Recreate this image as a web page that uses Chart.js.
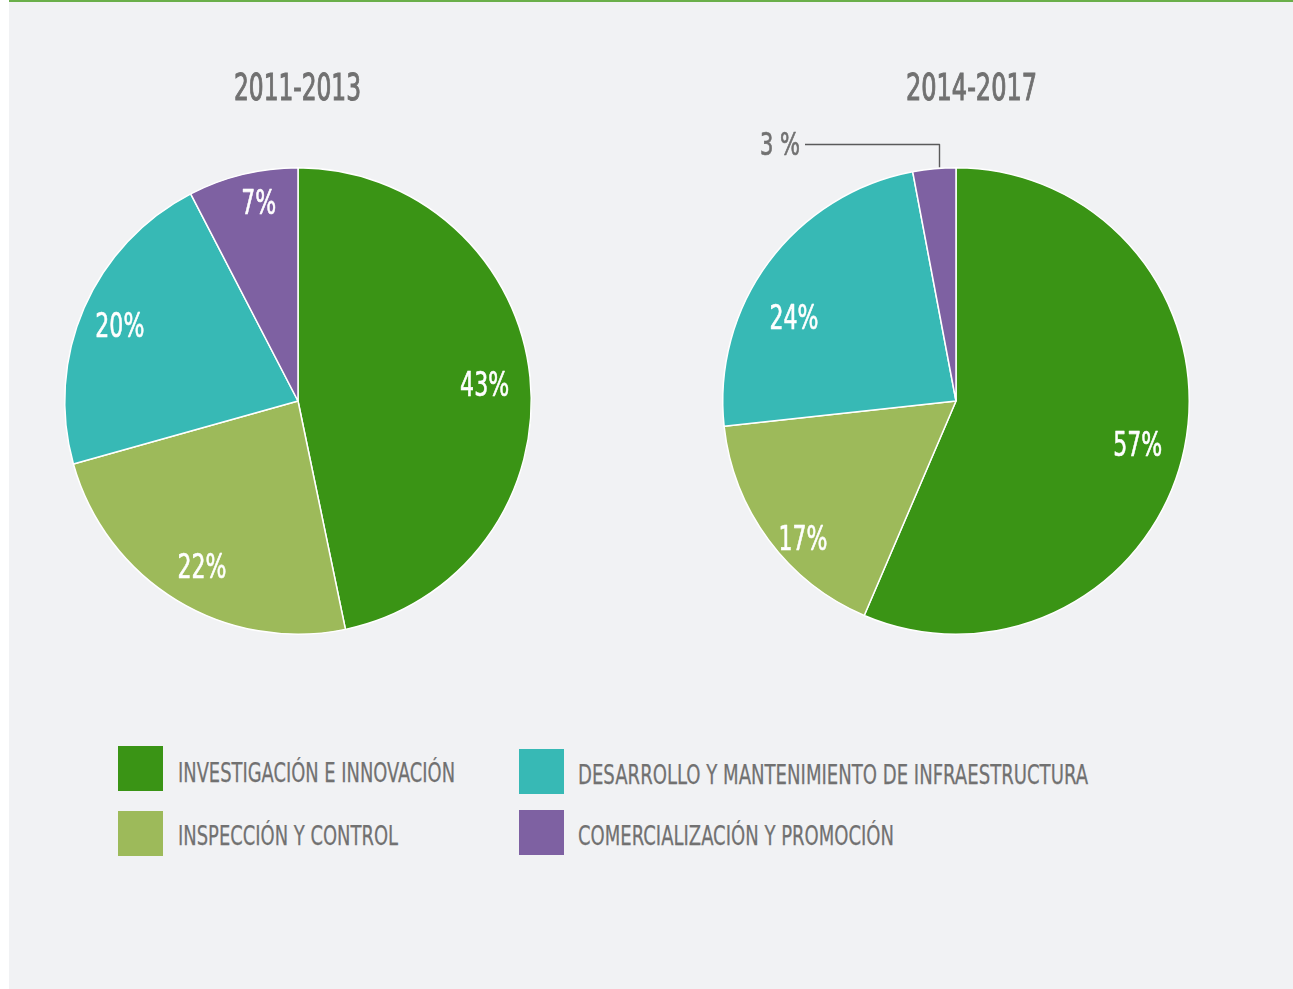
<!DOCTYPE html>
<html>
<head>
<meta charset="utf-8">
<script src="https://cdn.jsdelivr.net/npm/chart.js@4/dist/chart.umd.min.js"></script>
<style>
html,body{margin:0;padding:0;width:1293px;height:989px;overflow:hidden;background:#ffffff;}
#panel{position:absolute;left:9px;top:0;width:1284px;height:989px;background:#f1f2f4;}
#topline{position:absolute;left:9px;top:0;width:1284px;height:2px;background:#6aaf4a;}
.t{position:absolute;white-space:nowrap;color:#717171;font-family:"Liberation Sans Narrow","DejaVu Sans Condensed","Liberation Sans",sans-serif;line-height:1;transform-origin:0 50%;}
.sw{position:absolute;width:45px;height:45px;}
canvas{position:absolute;}
</style>
</head>
<body>
<div id="panel"></div>
<div id="topline"></div>
<canvas id="c1" width="600" height="600" style="left:-2px;top:101px;width:600px;height:600px;"></canvas>
<canvas id="c2" width="600" height="600" style="left:656px;top:101px;width:600px;height:600px;"></canvas>
<div id="texts"></div>
<script>
// ---------- data ----------
const categories = [
  "INVESTIGACIÓN E INNOVACIÓN",
  "INSPECCIÓN Y CONTROL",
  "DESARROLLO Y MANTENIMIENTO DE INFRAESTRUCTURA",
  "COMERCIALIZACIÓN Y PROMOCIÓN"
];
const periods = ["2011-2013", "2014-2017"];
const values2011 = [43, 22, 20, 7];
const values2014 = [57, 17, 24, 3];
const labels2011 = ["43%", "22%", "20%", "7%"];
const labels2014 = ["57%", "17%", "24%", "3 %"];

// ---------- styles ----------
const colors = ["#3a9415", "#9dba5a", "#37b9b5", "#7e61a2"];
const fontStack = '"Liberation Sans Narrow","DejaVu Sans Condensed","Liberation Sans",sans-serif';

const sliceLabels = {
  id: 'sliceLabels',
  afterDatasetsDraw(chart, args, opts) {
    const ctx = chart.ctx;
    const meta = chart.getDatasetMeta(0);
    ctx.save();
    ctx.font = opts.fontSize + 'px ' + fontStack;
    const sx = opts.refWidth / ctx.measureText("00%").width;
    ctx.fillStyle = '#ffffff';
    ctx.strokeStyle = '#ffffff';
    ctx.lineWidth = opts.stroke;
    ctx.lineJoin = 'round';
    ctx.textAlign = 'center';
    ctx.textBaseline = 'alphabetic';
    meta.data.forEach((arc, i) => {
      if (opts.skip && opts.skip.includes(i)) return;
      const p = arc.getProps(['x', 'y', 'startAngle', 'endAngle', 'outerRadius'], true);
      const mid = (p.startAngle + p.endAngle) / 2;
      const r = p.outerRadius * opts.radiusFactor;
      const off = opts.offsets[i] || [0, 0];
      const x = p.x + Math.cos(mid) * r + off[0];
      const y = p.y + Math.sin(mid) * r + off[1];
      ctx.save();
      ctx.translate(x, y + opts.fontSize * 0.36);
      ctx.scale(sx, 1);
      ctx.fillText(opts.texts[i], 0, 0);
      ctx.strokeText(opts.texts[i], 0, 0);
      ctx.restore();
    });
    if (opts.callout) {
      const c = opts.callout;
      const arc = meta.data[c.index];
      const p = arc.getProps(['x', 'y', 'startAngle', 'endAngle', 'outerRadius'], true);
      const a = p.startAngle + (p.endAngle - p.startAngle) * c.anchor;
      const x0 = Math.round(p.x + Math.cos(a) * p.outerRadius) + 0.5;
      const y0 = p.y + Math.sin(a) * p.outerRadius;
      ctx.strokeStyle = c.color;
      ctx.lineWidth = c.width;
      ctx.beginPath();
      ctx.moveTo(x0, y0 - 1);
      ctx.lineTo(x0, c.elbowY);
      ctx.lineTo(c.endX, c.elbowY);
      ctx.stroke();
    }
    ctx.restore();
  }
};

function makePie(id, values, texts, offsets, skip, callout) {
  return new Chart(document.getElementById(id), {
    type: 'pie',
    data: {
      labels: categories,
      datasets: [{
        data: values,
        backgroundColor: colors,
        borderColor: '#ffffff',
        borderWidth: 1.5,
        hoverOffset: 0
      }]
    },
    options: {
      responsive: false,
      animation: false,
      layout: { padding: 66 },
      events: [],
      plugins: {
        legend: { display: false },
        tooltip: { enabled: false },
        title: { display: false },
        sliceLabels: {
          texts: texts, offsets: offsets, skip: skip, callout: callout,
          fontSize: 33, refWidth: 49, radiusFactor: 0.8, stroke: 0.6
        }
      }
    },
    plugins: [sliceLabels]
  });
}

makePie('c1', values2011, labels2011,
  [[1, 2], [1, 6], [-7, -2], [5, -18]], [], null);
makePie('c2', values2014, labels2014,
  [[-1, 6], [-3, 26], [-12, 27], [0, 0]], [3],
  { index: 3, anchor: 0.62, elbowY: 43.5, endX: 149, color: '#5a5a5a', width: 1.4 });

// ---------- HTML texts (titles, legend, callout label) ----------
const box = document.getElementById('texts');
function addText(str, size, opt) {
  const d = document.createElement('div');
  d.className = 't';
  d.textContent = str;
  d.style.fontSize = size + 'px';
  if (opt.stroke) d.style.webkitTextStroke = opt.stroke + 'px #717171';
  d.style.top = (opt.cy - size * 0.48) + 'px';
  box.appendChild(d);
  const nat = d.getBoundingClientRect().width;
  const s = opt.w / nat;
  d.style.transform = 'scaleX(' + s + ')';
  const left = (opt.cx !== undefined) ? opt.cx - opt.w / 2 : opt.x;
  d.style.left = left + 'px';
  return d;
}
function addSwatch(color, x, y) {
  const d = document.createElement('div');
  d.className = 'sw';
  d.style.background = color;
  d.style.left = x + 'px';
  d.style.top = y + 'px';
  box.appendChild(d);
}

addText(periods[0], 37, { cx: 297.5, cy: 86.5, w: 127, stroke: 1.0 });
addText(periods[1], 37, { cx: 971.5, cy: 86.5, w: 131, stroke: 1.0 });
addText(labels2014[3], 32, { x: 760, cy: 143, w: 40, stroke: 0.7 });

const legendPos = [
  { sx: 118, sy: 746, tx: 178, cy: 772, w: 277 },
  { sx: 118, sy: 811, tx: 178, cy: 835, w: 220 },
  { sx: 519, sy: 749, tx: 578, cy: 774, w: 510 },
  { sx: 519, sy: 810, tx: 578, cy: 835, w: 316 }
];
categories.forEach((c, i) => {
  const p = legendPos[i];
  addSwatch(colors[i], p.sx, p.sy);
  addText(c, 26, { x: p.tx, cy: p.cy, w: p.w, stroke: 0.25 });
});
</script>
</body>
</html>
